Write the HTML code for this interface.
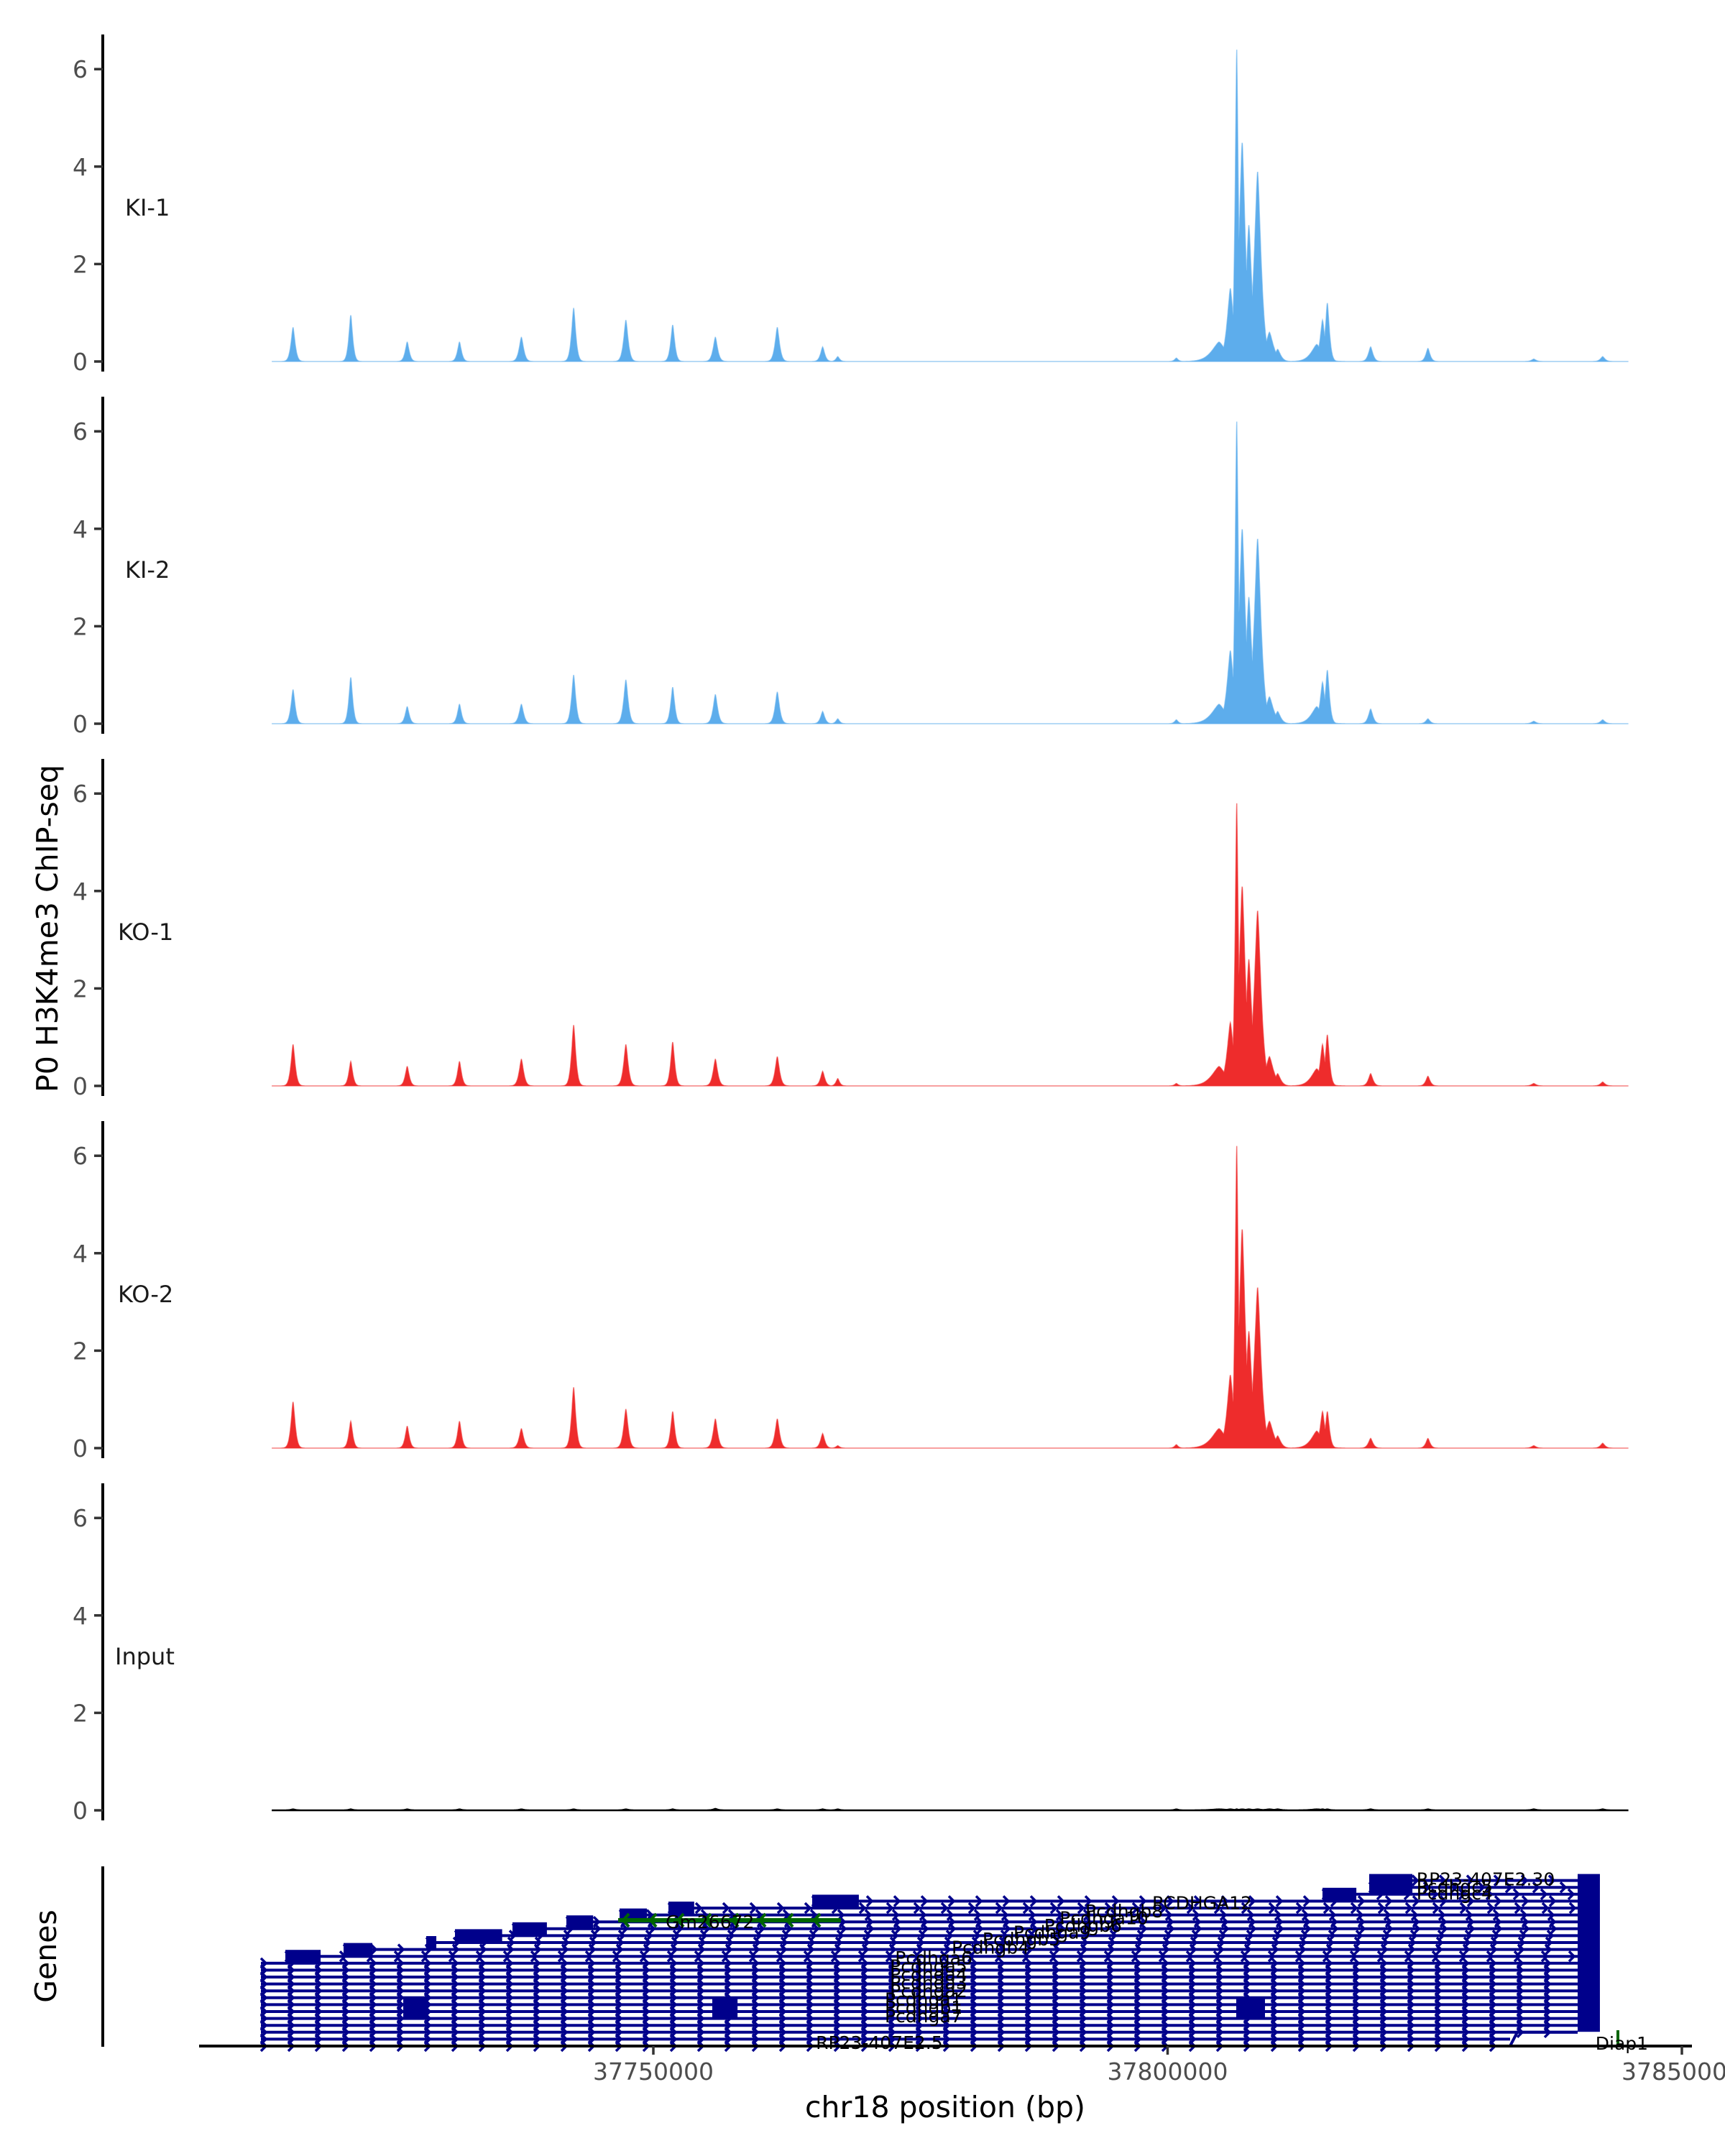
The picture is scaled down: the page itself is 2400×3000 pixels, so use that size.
<!DOCTYPE html>
<html><head><meta charset="utf-8"><style>
html,body{margin:0;padding:0;background:#fff;}
svg{display:block;font-family:"DejaVu Sans","Liberation Sans",sans-serif;}
</style></head><body>
<svg id="chart" width="2400" height="3000" viewBox="0 0 2400 3000" xmlns="http://www.w3.org/2000/svg">
<rect width="2400" height="3000" fill="#fff"/>
<g id="tracks"></g>
<g id="genes"></g>
<g id="axes"></g>
</svg>
<script>
// ---- data ----
const sampleNames = ["KI-1","KI-2","KO-1","KO-2","Input"];
const sampleColors = ["#5dadec","#5dadec","#ee2c2c","#ee2c2c","#000000"];
const peakCenters = [37714970,37720580,37726070,37731150,37737170,37742250,37747330,37751880,37756030,37762050,37766460,37767930,37800850,
  37805000,37806100,37806720,37807250,37807900,37808750,37809900,37810700,
  37814500,37815060,37815530,37819740,37825310,37835600,37842300];
const peakWidths = [280,260,270,270,300,280,300,270,300,300,280,240,240,
  1000,450,220,450,420,480,550,400,
  750,330,280,300,280,300,300];
const heightsKI1 = [0.7,0.95,0.4,0.4,0.5,1.1,0.85,0.75,0.5,0.7,0.3,0.1,0.07, 0.4,1.5,6.4,4.5,2.8,3.9,0.6,0.25, 0.35,0.85,1.2,0.3,0.27,0.05,0.1];
const heightsKI2 = [0.7,0.95,0.35,0.4,0.4,1.0,0.9,0.75,0.6,0.65,0.25,0.1,0.08, 0.4,1.5,6.2,4.0,2.6,3.8,0.55,0.25, 0.35,0.85,1.1,0.3,0.1,0.05,0.08];
const heightsKO1 = [0.85,0.5,0.4,0.5,0.55,1.25,0.85,0.9,0.55,0.6,0.3,0.15,0.05, 0.4,1.3,5.8,4.1,2.6,3.6,0.6,0.25, 0.35,0.85,1.05,0.25,0.2,0.05,0.08];
const heightsKO2 = [0.95,0.55,0.45,0.55,0.4,1.25,0.8,0.75,0.6,0.6,0.3,0.05,0.07, 0.4,1.5,6.2,4.5,2.4,3.3,0.55,0.25, 0.35,0.75,0.75,0.2,0.2,0.05,0.1];
const heightsInput = [0.02,0.02,0.02,0.02,0.02,0.02,0.02,0.02,0.03,0.02,0.02,0.02,0.02, 0.02,0.02,0.02,0.02,0.02,0.02,0.02,0.02, 0.02,0.02,0.02,0.02,0.02,0.02,0.02];
const yTicks = [0,2,4,6];
const xTicks = [37750000,37800000,37850000];
const xTickLabels = ["37750000","37800000","37850000"];
const rowStarts = [37711845,37711845,37711845,37711845,37711845,37711845,37711845,37711845,37711845,37711845,37711845,37711845,37711845,
  37714222,37719882,37727918,37730713,37736304,37741545,37746716,37751467,37765444,37815058,37819600,37823793];
const rowEnds = [37833297,37833297,37839866,37839866,37839866,37839866,37839866,37839866,37839866,37839866,37839866,37839866,37839866,
  37839866,37839866,37839866,37839866,37839866,37839866,37839866,37839866,37839866,37839866,37839866,37839866];
const exonStarts = [37714222,37719882,37727918,37730713,37736304,37741545,37746716,37751467,37765444,37815058,37819600,37725682,37755730,37806672,37839866];
const exonEnds =   [37717650,37722680,37728900,37735300,37739650,37744150,37749370,37753970,37769980,37818350,37823800,37728067,37758186,37809467,37842030];
const exonRowLo =  [13,14,15,16,17,18,19,20,21,22,23,5,5,5,3];
const exonRowHi =  [13,14,15,16,17,18,19,20,21,22,24,6,6,6,24];
const greenStart = 37746576, greenEnd = 37768239;
const geneLabels = ["RP23-407E2.30","Pcdhgc5","Pcdhgc4","PCDHGA12","Pcdhgb8","Pcdhga10","Pcdhgb6","Pcdhga9","Pcdhgb5","Pcdhgb4","Pcdhga6","Pcdhga5","Pcdhga4","Pcdhga3","Pcdhga2","Pcdhga1","Pcdhgb1","Pcdhga7","RP23-407E2.5","Gm26672","Diap1"];
const labelBp = [37824200,37824200,37824200,37798500,37792000,37789500,37788000,37785000,37782000,37779000,37773500,37773000,37773000,37773000,37773000,37772500,37772500,37772500,37765800,37751200,37841600];
const labelRow = [24.2,23.2,22.2,20.8,19.6,18.6,17.5,16.5,15.5,14.3,12.8,11.6,10.4,9.2,8.0,6.8,5.6,4.4,0.5,18.0,0.4];

// ---- scales ----
const NS="http://www.w3.org/2000/svg";
function xs(bp){return 909+(bp-37750000)*0.014310;}
const zeroY=[503,1007,1511,2015,2519];
const unit=67.8;
function ys(i,v){return zeroY[i]-v*unit;}
function rowY(r){return 2847-r*9.6;}
function mk(tag,attrs,parent){const e=document.createElementNS(NS,tag);for(const k in attrs)e.setAttribute(k,attrs[k]);parent.appendChild(e);return e;}

const tracks=document.getElementById('tracks');
const axes=document.getElementById('axes');
const genes=document.getElementById('genes');
const allHeights=[heightsKI1,heightsKI2,heightsKO1,heightsKO2,heightsInput];
const bpStart=37712900,bpEnd=37844800,step=20;

for(let s=0;s<5;s++){
  const hs=allHeights[s];
  let d="M"+xs(bpStart).toFixed(1)+","+ys(s,0);
  for(let b=bpStart;b<=bpEnd;b+=step){
    let v=0;
    for(let p=0;p<peakCenters.length;p++){
      const dd=Math.abs(b-peakCenters[p]);
      if(dd<peakWidths[p]*6){const c=hs[p]*Math.exp(-Math.pow(dd/peakWidths[p],1.4));if(c>v)v=c;}
    }
    d+="L"+xs(b).toFixed(1)+","+ys(s,v).toFixed(1);
  }
  d+="L"+xs(bpEnd).toFixed(1)+","+ys(s,0)+"Z";
  const path=mk('path',{d:d,fill:sampleColors[s],stroke:sampleColors[s],'stroke-width':s==4?2.5:1.5,'stroke-opacity':s==4?1:0.6},tracks);
  
  
  const top=zeroY[s]-455, bot=zeroY[s]+14;
  const al=mk('line',{x1:143,x2:143,y1:top,y2:bot,stroke:'#000','stroke-width':4},axes);
  
  
  yTicks.forEach(t=>{
    const tl=mk('line',{x1:131,x2:143,y1:ys(s,t),y2:ys(s,t),stroke:'#333','stroke-width':3.5},axes);
    
    
    const tt=mk('text',{x:122,y:ys(s,t)+12,'text-anchor':'end','font-size':33,fill:'#4d4d4d'},axes);
    tt.textContent=t;
    
    
  });
  const lb=mk('text',{x:[174,174,164,164,160][s],y:zeroY[s]-203,'font-size':32,fill:'#1a1a1a'},axes);
  lb.textContent=sampleNames[s];
  
  
}

for(let r=0;r<rowStarts.length;r++){
  const y=rowY(r), x1=xs(rowStarts[r]), x2=xs(rowEnds[r]);
  const ln=mk('line',{x1:x1,x2:x2,y1:y,y2:y,stroke:'#00008b','stroke-width':4},genes);
  
  
  let d="";
  for(let x=x1+4;x<x2-4;x+=38){d+="M"+(x-4)+","+(y-7)+"L"+(x+3)+","+y+"L"+(x-4)+","+(y+7);}
  const ch=mk('path',{d:d,fill:'none',stroke:'#00008b','stroke-width':3.5},genes);
  
  
}
const bend=mk('path',{d:"M"+xs(rowEnds[0])+","+rowY(0)+"L"+(xs(rowEnds[0])+10)+","+rowY(2)+"L"+xs(rowEnds[2])+","+rowY(2),fill:'none',stroke:'#00008b','stroke-width':4},genes);


for(let e=0;e<exonStarts.length;e++){
  const yT=rowY(exonRowHi[e])-9, yB=rowY(exonRowLo[e])+9;
  const rc=mk('rect',{x:xs(exonStarts[e]),y:yT,width:xs(exonEnds[e])-xs(exonStarts[e]),height:yB-yT,fill:'#00008b'},genes);
  
  
}
{
  const y=2672, x1=xs(greenStart), x2=xs(greenEnd);
  const gl=mk('line',{x1:x1,x2:x2,y1:y,y2:y,stroke:'#006400','stroke-width':6},genes);
  
  
  let d="";
  for(let x=x1+10;x<x2;x+=38){d+="M"+(x+5)+","+(y-9)+"L"+(x-3)+","+y+"L"+(x+5)+","+(y+9);}
  const gc=mk('path',{d:d,fill:'none',stroke:'#006400','stroke-width':4},genes);
  
  
  const dg=mk('line',{x1:2251,x2:2251,y1:2825,y2:2845,stroke:'#006400','stroke-width':4},genes);
  
  
}
for(let i=0;i<geneLabels.length;i++){
  const t=mk('text',{x:xs(labelBp[i]),y:rowY(labelRow[i])+9,'font-size':25,fill:'#000'},genes);
  t.textContent=geneLabels[i];
  
  
}
const ga=mk('line',{x1:143,x2:143,y1:2597,y2:2848,stroke:'#000','stroke-width':4},axes);


const xa=mk('line',{x1:277,x2:2354,y1:2847,y2:2847,stroke:'#000','stroke-width':4},axes);


xTicks.forEach((t,i)=>{
  const tl=mk('line',{x1:xs(t),x2:xs(t),y1:2847,y2:2859,stroke:'#333','stroke-width':3.5},axes);
  
  
  const tt=mk('text',{x:xs(t),y:2894,'text-anchor':'middle','font-size':33,fill:'#4d4d4d'},axes);
  tt.textContent=xTickLabels[i];
  
  
});
const xt=mk('text',{x:1315,y:2946,'text-anchor':'middle','font-size':41,fill:'#000'},axes);
xt.textContent="chr18 position (bp)";


const yt=mk('text',{x:0,y:0,'text-anchor':'middle','font-size':41,fill:'#000',transform:'translate(80,1292) rotate(-90)'},axes);
yt.textContent="P0 H3K4me3 ChIP-seq";


const gt=mk('text',{x:0,y:0,'text-anchor':'middle','font-size':41,fill:'#000',transform:'translate(78,2722) rotate(-90)'},axes);
gt.textContent="Genes";


</script>
</body></html>
